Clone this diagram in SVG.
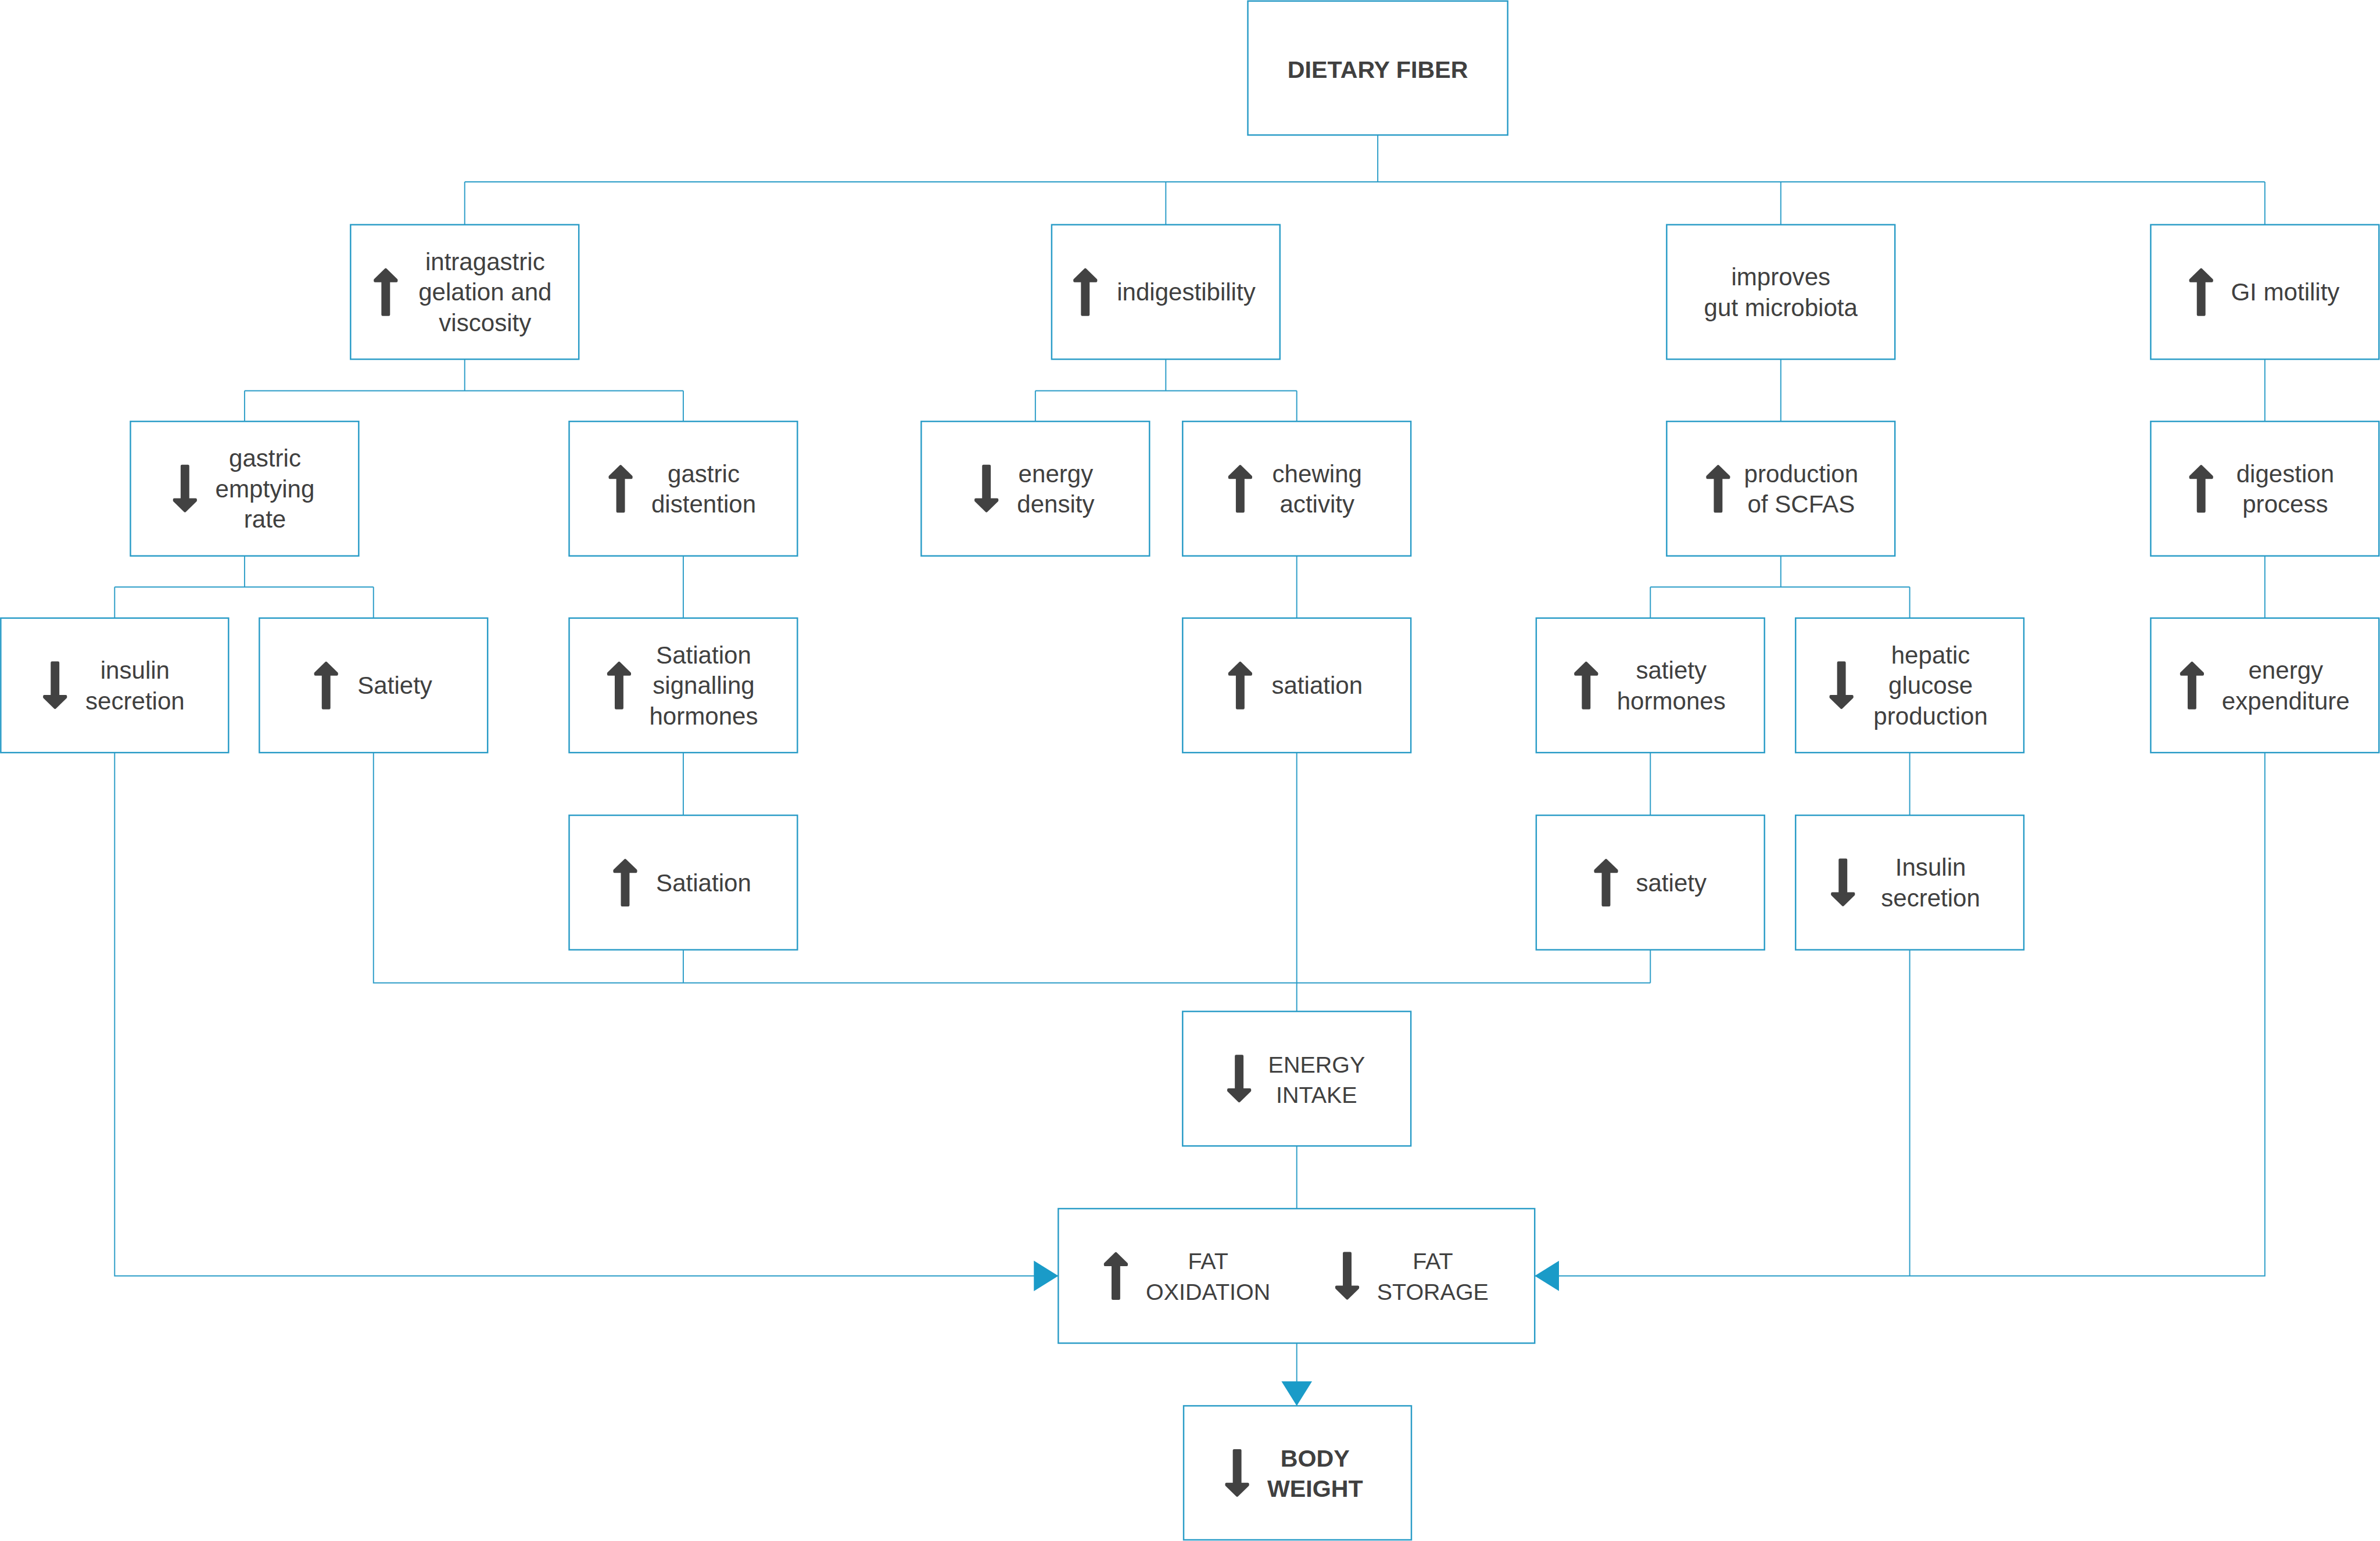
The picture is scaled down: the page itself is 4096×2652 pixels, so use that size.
<svg xmlns="http://www.w3.org/2000/svg" xmlns:xlink="http://www.w3.org/1999/xlink" width="4096" height="2652" viewBox="0 0 4096 2652">
<style>
.box{fill:#ffffff;stroke:#2a9cc7;stroke-width:2.8}
.con{fill:none;stroke:#2a9cc7;stroke-width:2.2}
.t{font-family:"Liberation Sans",Arial,Helvetica,sans-serif;font-size:48px;fill:#404040;text-anchor:middle}
.c{font-size:45px}
.b{font-weight:bold;font-size:47px}
.ic{fill:#424242;stroke:#424242;stroke-width:5;stroke-linejoin:round}
</style>
<defs>
<path id="up" class="ic" d="M0,-44 L21,-23.5 L21,-21.5 L6,-21.5 L6,44.5 L-6,44.5 L-6,-21.5 L-21,-21.5 L-21,-23.5 Z"/>
<path id="dn" class="ic" d="M0,44 L21,23.5 L21,21.5 L6,21.5 L6,-44.5 L-6,-44.5 L-6,21.5 L-21,21.5 L-21,23.5 Z"/>
<marker id="ah" viewBox="0 0 48 60" refX="48" refY="30" markerWidth="48" markerHeight="60" markerUnits="userSpaceOnUse" orient="auto">
<path d="M0,0 L48,30 L0,60 Z" fill="#1a9bc8"/>
</marker>
</defs>
<rect width="4096" height="2652" fill="#ffffff"/>
<g transform="scale(0.8769)">
<g id="connectors">
<path class="con" d="M2704,265 V357 M912,357 H4445 M912,357 V441 M2288,357 V441 M3495,357 V441 M4445,357 V441"/>
<path class="con" d="M912,705 V767 M480,767 H1341 M480,767 V827 M1341,767 V827"/>
<path class="con" d="M2288,705 V767 M2032,767 H2545 M2032,767 V827 M2545,767 V827"/>
<path class="con" d="M3495,705 V827 M4445,705 V827"/>
<path class="con" d="M480,1091 V1152 M225,1152 H733 M225,1152 V1213 M733,1152 V1213"/>
<path class="con" d="M1341,1091 V1213 M1341,1477 V1600 M1341,1864 V1929"/>
<path class="con" d="M2545,1091 V1213 M2545,1477 V1986"/>
<path class="con" d="M3495,1091 V1152 M3239,1152 H3748 M3239,1152 V1213 M3748,1152 V1213"/>
<path class="con" d="M4445,1091 V1213"/>
<path class="con" d="M3239,1477 V1600 M3239,1864 V1929 M733,1477 V1929 H3239"/>
<path class="con" d="M3748,1477 V1600 M3748,1864 V2504"/>
<path class="con" d="M2545,2250 V2372"/>
<path class="con" d="M225,1477 V2504 H2077" marker-end="url(#ah)"/>
<path class="con" d="M4445,1477 V2504 H3012" marker-end="url(#ah)"/>
<path class="con" d="M2545,2636 V2759" marker-end="url(#ah)"/>
</g>

<g id="n_fiber">
<rect class="box" x="2449" y="2" width="510" height="263"/>
<text class="t b" x="2704" y="153">DIETARY FIBER</text>
</g>

<g id="n_gelation">
<rect class="box" x="688" y="441" width="448" height="264"/>
<use href="#up" x="757" y="573"/>
<text class="t"><tspan x="952" y="530">intragastric</tspan><tspan x="952" y="590">gelation and</tspan><tspan x="952" y="650">viscosity</tspan></text>
</g>

<g id="n_indigestibility">
<rect class="box" x="2064" y="441" width="448" height="264"/>
<use href="#up" x="2130" y="573"/>
<text class="t" x="2328" y="590">indigestibility</text>
</g>

<g id="n_microbiota">
<rect class="box" x="3271" y="441" width="448" height="264"/>
<text class="t"><tspan x="3495" y="560">improves</tspan><tspan x="3495" y="620">gut microbiota</tspan></text>
</g>

<g id="n_gi">
<rect class="box" x="4221" y="441" width="448" height="264"/>
<use href="#up" x="4320" y="573"/>
<text class="t" x="4485" y="590">GI motility</text>
</g>

<g id="n_gastric_emptying">
<rect class="box" x="256" y="827" width="448" height="264"/>
<use href="#dn" x="363" y="959"/>
<text class="t"><tspan x="520" y="916">gastric</tspan><tspan x="520" y="976">emptying</tspan><tspan x="520" y="1036">rate</tspan></text>
</g>

<g id="n_distention">
<rect class="box" x="1117" y="827" width="448" height="264"/>
<use href="#up" x="1218" y="959"/>
<text class="t"><tspan x="1381" y="946">gastric</tspan><tspan x="1381" y="1006">distention</tspan></text>
</g>

<g id="n_energy_density">
<rect class="box" x="1808" y="827" width="448" height="264"/>
<use href="#dn" x="1936" y="959"/>
<text class="t"><tspan x="2072" y="946">energy</tspan><tspan x="2072" y="1006">density</tspan></text>
</g>

<g id="n_chewing">
<rect class="box" x="2321" y="827" width="448" height="264"/>
<use href="#up" x="2434" y="959"/>
<text class="t"><tspan x="2585" y="946">chewing</tspan><tspan x="2585" y="1006">activity</tspan></text>
</g>

<g id="n_scfas">
<rect class="box" x="3271" y="827" width="448" height="264"/>
<use href="#up" x="3372" y="959"/>
<text class="t"><tspan x="3535" y="946">production</tspan><tspan x="3535" y="1006">of SCFAS</tspan></text>
</g>

<g id="n_digestion">
<rect class="box" x="4221" y="827" width="448" height="264"/>
<use href="#up" x="4320" y="959"/>
<text class="t"><tspan x="4485" y="946">digestion</tspan><tspan x="4485" y="1006">process</tspan></text>
</g>

<g id="n_insulin1">
<rect class="box" x="1.5" y="1213" width="447" height="264"/>
<use href="#dn" x="108" y="1345"/>
<text class="t"><tspan x="265" y="1332">insulin</tspan><tspan x="265" y="1392">secretion</tspan></text>
</g>

<g id="n_satiety1">
<rect class="box" x="509" y="1213" width="448" height="264"/>
<use href="#up" x="640" y="1345"/>
<text class="t" x="775" y="1362">Satiety</text>
</g>

<g id="n_satiation_signalling">
<rect class="box" x="1117" y="1213" width="448" height="264"/>
<use href="#up" x="1215" y="1345"/>
<text class="t"><tspan x="1381" y="1302">Satiation</tspan><tspan x="1381" y="1362">signalling</tspan><tspan x="1381" y="1422">hormones</tspan></text>
</g>

<g id="n_satiation1">
<rect class="box" x="2321" y="1213" width="448" height="264"/>
<use href="#up" x="2434" y="1345"/>
<text class="t" x="2585" y="1362">satiation</text>
</g>

<g id="n_satiety_hormones">
<rect class="box" x="3015" y="1213" width="448" height="264"/>
<use href="#up" x="3113" y="1345"/>
<text class="t"><tspan x="3280" y="1332">satiety</tspan><tspan x="3280" y="1392">hormones</tspan></text>
</g>

<g id="n_hepatic">
<rect class="box" x="3524" y="1213" width="448" height="264"/>
<use href="#dn" x="3614" y="1345"/>
<text class="t"><tspan x="3789" y="1302">hepatic</tspan><tspan x="3789" y="1362">glucose</tspan><tspan x="3789" y="1422">production</tspan></text>
</g>

<g id="n_expenditure">
<rect class="box" x="4221" y="1213" width="448" height="264"/>
<use href="#up" x="4302" y="1345"/>
<text class="t"><tspan x="4486" y="1332">energy</tspan><tspan x="4486" y="1392">expenditure</tspan></text>
</g>

<g id="n_satiation2">
<rect class="box" x="1117" y="1600" width="448" height="264"/>
<use href="#up" x="1227" y="1732"/>
<text class="t" x="1381" y="1749">Satiation</text>
</g>

<g id="n_satiety2">
<rect class="box" x="3015" y="1600" width="448" height="264"/>
<use href="#up" x="3152" y="1732"/>
<text class="t" x="3280" y="1749">satiety</text>
</g>

<g id="n_insulin2">
<rect class="box" x="3524" y="1600" width="448" height="264"/>
<use href="#dn" x="3617" y="1732"/>
<text class="t"><tspan x="3789" y="1719">Insulin</tspan><tspan x="3789" y="1779">secretion</tspan></text>
</g>

<g id="n_energy_intake">
<rect class="box" x="2321" y="1985" width="448" height="264"/>
<use href="#dn" x="2432" y="2117"/>
<text class="t c"><tspan x="2584" y="2105">ENERGY</tspan><tspan x="2584" y="2165">INTAKE</tspan></text>
</g>

<g id="n_fat">
<rect class="box" x="2077" y="2372" width="935" height="264"/>
<use href="#up" x="2190" y="2504"/>
<text class="t c"><tspan x="2371" y="2491">FAT</tspan><tspan x="2371" y="2551">OXIDATION</tspan></text>
<use href="#dn" x="2644" y="2504"/>
<text class="t c"><tspan x="2812" y="2491">FAT</tspan><tspan x="2812" y="2551">STORAGE</tspan></text>
</g>

<g id="n_body_weight">
<rect class="box" x="2323" y="2759" width="447" height="263"/>
<use href="#dn" x="2428" y="2891"/>
<text class="t b"><tspan x="2581" y="2878">BODY</tspan><tspan x="2581" y="2938">WEIGHT</tspan></text>
</g>
</g>
</svg>
